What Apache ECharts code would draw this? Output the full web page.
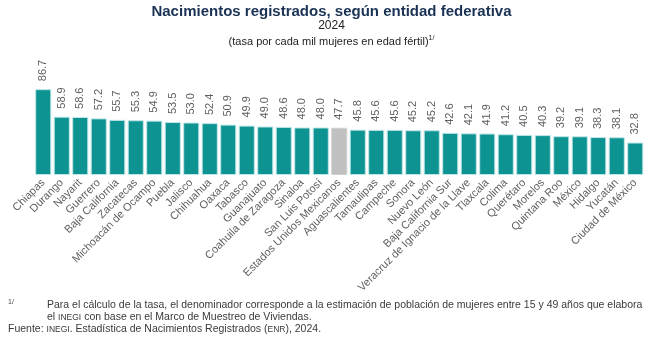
<!DOCTYPE html>
<html><head><meta charset="utf-8">
<script src="https://cdn.jsdelivr.net/npm/echarts@6/dist/echarts.min.js"></script>
<style>html,body{margin:0;padding:0;background:#fff}#c{width:663px;height:356px}</style>
</head><body><div id="c"></div>
<script>
const categories = ["Chiapas","Durango","Nayarit","Guerrero","Baja California","Zacatecas","Michoacán de Ocampo","Puebla","Jalisco","Chihuahua","Oaxaca","Tabasco","Guanajuato","Coahuila de Zaragoza","Sinaloa","San Luis Potosí","Estados Unidos Mexicanos","Aguascalientes","Tamaulipas","Campeche","Sonora","Nuevo León","Baja California Sur","Veracruz de Ignacio de la Llave","Tlaxcala","Colima","Querétaro","Morelos","Quintana Roo","México","Hidalgo","Yucatán","Ciudad de México"];
const values = [86.7,58.9,58.6,57.2,55.7,55.3,54.9,53.5,53.0,52.4,50.9,49.9,49.0,48.6,48.0,48.0,47.7,45.8,45.6,45.6,45.2,45.2,42.6,42.1,41.9,41.2,40.5,40.3,39.2,39.1,38.3,38.1,32.8];
const nationalName = "Estados Unidos Mexicanos";

const chart = echarts.init(document.getElementById('c'), null, {renderer:'canvas'});
const FONT = '"Liberation Sans", Arial, sans-serif';
chart.setOption({
  animation:false,
  backgroundColor:'#fff',
  title:[
    {text:'Nacimientos registrados, según entidad federativa', left:'center', top:-1,
     textStyle:{fontFamily:FONT, fontSize:15, fontWeight:'bold', color:'#1a3254'}},
    {text:'2024', left:'center', top:15, textStyle:{fontFamily:FONT, fontSize:12, fontWeight:'normal', color:'#222'}},
    {text:'{a|(tasa por cada mil mujeres en edad fértil)}{s|1/}', left:'center', top:30,
     textStyle:{fontWeight:'normal', rich:{a:{fontFamily:FONT, fontSize:11, fontWeight:'normal', color:'#222'}, s:{fontFamily:FONT, fontSize:7, fontWeight:'normal', color:'#222', verticalAlign:'top', padding:[0,0,6,0]}}}}
  ],
  graphic:[
    {type:'text', left:8, top:299, style:{text:'1/', font:'7px '+FONT, fill:'#444'}},
    {type:'text', left:47, top:300, style:{text:'Para el cálculo de la tasa, el denominador corresponde a la estimación de población de mujeres entre 15 y 49 años que elabora', font:'10.5px '+FONT, fill:'#3a3a3a'}},
    {type:'text', left:47, top:312, style:{text:'{a|el }{b|INEGI}{a| con base en el Marco de Muestreo de Viviendas.}', rich:{a:{font:'10.5px '+FONT, fill:'#3a3a3a'}, b:{font:'8.5px '+FONT, fill:'#3a3a3a'}}}},
    {type:'text', left:8, top:324, style:{text:'{a|Fuente: }{b|INEGI}{a|. Estadística de Nacimientos Registrados (}{b|ENR}{a|), 2024.}', rich:{a:{font:'10.5px '+FONT, fill:'#3a3a3a'}, b:{font:'8.5px '+FONT, fill:'#3a3a3a'}}}}
  ],
  grid:{left:34, right:18.5, top:76, bottom:181, containLabel:false},
  xAxis:{type:'category', data:categories,
    axisLine:{show:false}, axisTick:{show:false},
    axisLabel:{interval:0, rotate:45, fontFamily:FONT, fontSize:11, color:'#5f5f5f', margin:6}},
  yAxis:{type:'value', min:0, max:100, show:false, splitLine:{show:false}},
  series:[{type:'bar', barCategoryGap:'13%',
    data:values.map((v,i)=>({value:v, itemStyle:{color: categories[i]===nationalName ? '#c0c0c0' : '#0e9393', borderColor: categories[i]===nationalName ? '#d0d0d0' : '#bfe6e6', borderWidth:1}})),
    label:{show:true, position:'top', rotate:90, align:'left', verticalAlign:'middle', distance:8,
      formatter:p=>p.value.toFixed(1), fontFamily:FONT, fontSize:11, color:'#5f5f5f'}
  }]
});
</script></body></html>
